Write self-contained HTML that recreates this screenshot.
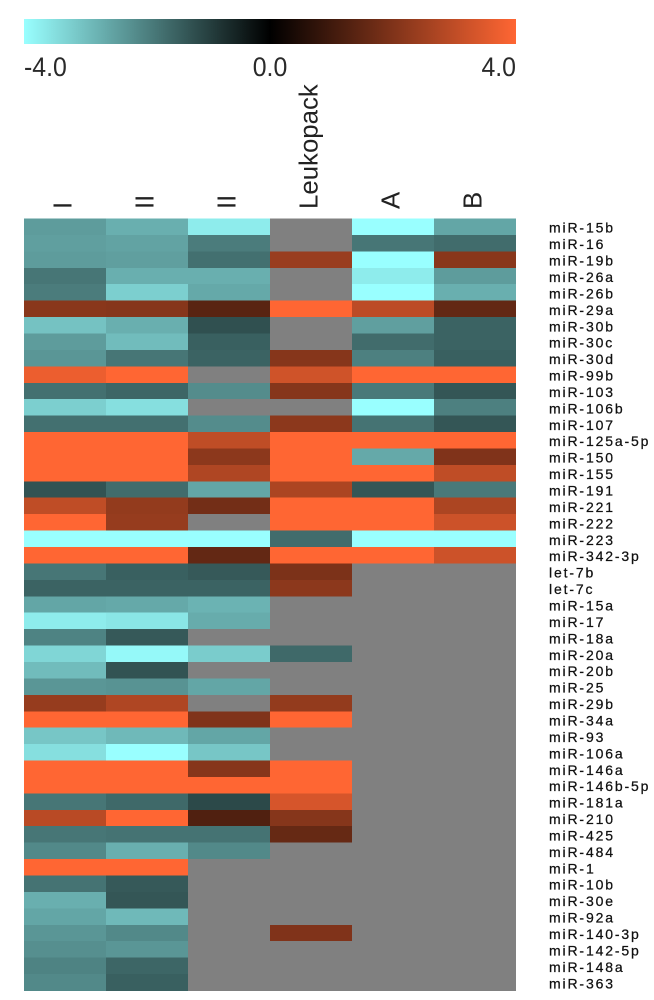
<!DOCTYPE html>
<html lang="en">
<head>
<meta charset="utf-8">
<title>miRNA expression heatmap</title>
<style>
  html, body { margin: 0; padding: 0; background: #fff; }
  body { width: 654px; height: 1000px; overflow: hidden; }
  svg { display: block; }
  text { font-family: "Liberation Sans", sans-serif; }
  .soft { filter: blur(0.35px); }
</style>
</head>
<body>
<svg id="chart" xmlns="http://www.w3.org/2000/svg" width="654" height="1000" viewBox="0 0 654 1000">
  <defs>
    <linearGradient id="legend-gradient" x1="0" x2="1" y1="0" y2="0">
      <stop offset="0" stop-color="#99ffff"/>
      <stop offset="0.5" stop-color="#000000"/>
      <stop offset="1" stop-color="#ff6633"/>
    </linearGradient>
  </defs>
  <rect x="0" y="0" width="654" height="1000" fill="#ffffff"/>
  <rect x="24" y="19" width="492" height="25" fill="url(#legend-gradient)"/>
  <g id="legend-ticks" class="soft"></g>
  <g id="col-labels" class="soft"></g>
  <g id="cells" class="soft"></g>
  <g id="row-labels" class="soft"></g>
</svg>
<script>
const columns = ["I", "II", "II", "Leukopack", "A", "B"];
const legendTicks = [-4, 0, 4];
const rowNames = ["miR-15b","miR-16","miR-19b","miR-26a","miR-26b","miR-29a","miR-30b","miR-30c","miR-30d","miR-99b","miR-103","miR-106b","miR-107","miR-125a-5p","miR-150","miR-155","miR-191","miR-221","miR-222","miR-223","miR-342-3p","let-7b","let-7c","miR-15a","miR-17","miR-18a","miR-20a","miR-20b","miR-25","miR-29b","miR-34a","miR-93","miR-106a","miR-146a","miR-146b-5p","miR-181a","miR-210","miR-425","miR-484","miR-1","miR-10b","miR-30e","miR-92a","miR-140-3p","miR-142-5p","miR-148a","miR-363"];
const N = null;
const valuesI = [-2.45,-2.5,-2.45,-1.85,-1.95,2.15,-3.05,-2.45,-2.35,3.7,-1.75,-3.25,-1.75,4,4,4,-1.3,3,4,-4,4,-1.85,-1.55,-2.6,-3.7,-2.05,-3.35,-2.95,-2.35,2.35,4,-3.1,-3.5,4,4,-1.85,2.9,-1.85,-2.15,4,-1.8,-2.75,-2.6,-2.35,-2.25,-2.05,-2.15];
const valuesII = [-2.75,-2.55,-2.5,-2.75,-3.25,2.1,-2.75,-2.95,-1.85,4,-1.6,-3.5,-1.75,4,4,4,-1.7,2.3,2.35,-4,4,-1.5,-1.55,-2.65,-3.6,-1.4,-3.9,-1.3,-2.3,2.75,4,-2.9,-4,4,4,-1.65,4,-1.8,-2.75,4,-1.4,-1.35,-2.9,-2.15,-2.35,-1.6,-1.5];
const valuesIIb = [-3.7,-1.95,-1.75,-2.75,-2.65,1.4,-1.25,-1.5,-1.55,N,-2.2,N,-2.2,3,2.2,2.75,-2.6,1.8,N,-4,1.55,-1.4,-1.55,-2.8,-2.7,N,-3.2,N,-2.6,N,2,-2.6,-3.1,2.1,4,-1.15,1.25,-1.8,-2.15,N,N,N,N,N,N,N,N];
const valuesLeukopack = [N,N,2.4,N,N,4,N,N,2.1,3.25,2.1,N,2.2,4,4,4,2.7,4,4,-1.7,4,1.95,2.2,N,N,N,-1.65,N,N,2.3,4,N,N,4,4,3.35,2.1,1.6,N,N,N,N,N,2,N,N,N];
const valuesA = [-4,-1.85,-4,-3.7,-4,2.95,-2.5,-1.7,-2,4,-1.9,-4,-1.8,4,-2.65,4,-1.35,4,4,-4,4,N,N,N,N,N,N,N,N,N,N,N,N,N,N,N,N,N,N,N,N,N,N,N,N,N,N];
const valuesB = [-2.6,-1.7,2.15,-2.45,-2.75,1.55,-1.55,-1.55,-1.5,4,-1.35,-2,-1.35,4,2,3,-1.9,2.7,3.2,-4,3.2,N,N,N,N,N,N,N,N,N,N,N,N,N,N,N,N,N,N,N,N,N,N,N,N,N,N];
const seriesByColumn = [valuesI, valuesII, valuesIIb, valuesLeukopack, valuesA, valuesB];

const SVG_NS = "http://www.w3.org/2000/svg";
const plot = { left: 24, top: 218.5, width: 492, height: 772 };
const bandX = plot.width / columns.length;
const bandY = plot.height / rowNames.length;
const xScale = function (j) { return plot.left + j * bandX; };
const yScale = function (i) { return plot.top + i * bandY; };
const legendScale = function (v) { return plot.left + (v + 4) / 8 * plot.width; };
const colorScale = function (v) {
  if (v === null) return "#808080";
  const t = Math.min(1, Math.abs(v) / 4);
  const end = v < 0 ? [153, 255, 255] : [255, 102, 51];
  return "rgb(" + end.map(function (c) { return Math.round(c * t); }).join(",") + ")";
};
const make = function (tag, attrs, parent) {
  const el = document.createElementNS(SVG_NS, tag);
  Object.keys(attrs).forEach(function (k) { el.setAttribute(k, attrs[k]); });
  parent.appendChild(el);
  return el;
};

const legendGroup = document.getElementById("legend-ticks");
legendTicks.forEach(function (v, k) {
  const anchor = k === 0 ? "start" : (k === legendTicks.length - 1 ? "end" : "middle");
  const t = make("text", { x: 0, y: 0, transform: "translate(" + legendScale(v) + ",76) scale(0.92,1)", "text-anchor": anchor, "font-size": 27, fill: "#2a2a2a" }, legendGroup);
  t.textContent = v.toFixed(1);
  
  
});

const colGroup = document.getElementById("col-labels");
columns.forEach(function (name, j) {
  const cx = xScale(j) + bandX / 2 + 6.5;
  const t = make("text", { x: 0, y: 0, transform: "translate(" + cx + ",209) rotate(-90)", "font-size": 25.8, fill: "#222" }, colGroup);
  t.textContent = name;
  
  
});

const cellGroup = document.getElementById("cells");
seriesByColumn.forEach(function (values, j) {
  values.forEach(function (v, i) {
    const r = make("rect", { x: xScale(j), y: yScale(i), width: bandX, height: bandY + 0.5, fill: colorScale(v), "shape-rendering": "crispEdges" }, cellGroup);
    
    
  });
});

const rowGroup = document.getElementById("row-labels");
rowNames.forEach(function (name, i) {
  const t = make("text", { x: 549, y: yScale(i) + bandY / 2 + 6, "font-size": 14, "letter-spacing": 1.85, fill: "#111", stroke: "#111", "stroke-width": 0.25 }, rowGroup);
  t.textContent = name;
  
  
});
</script>
</body>
</html>
